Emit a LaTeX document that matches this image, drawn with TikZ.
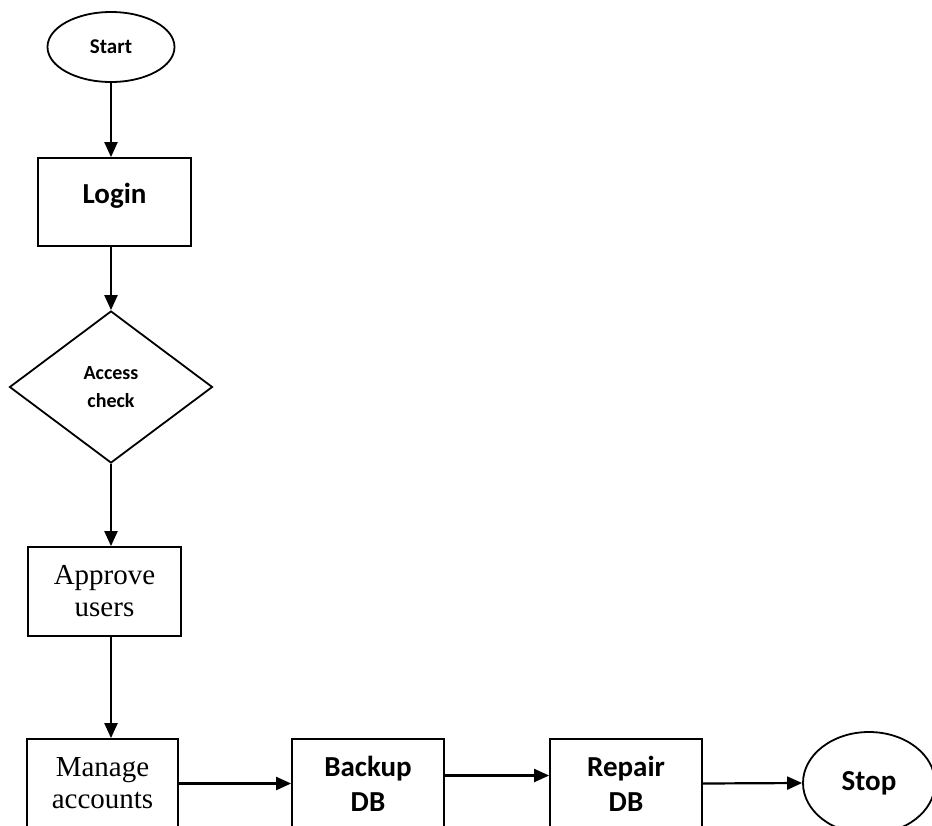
\documentclass[tikz,border=0pt]{standalone}
\usepackage{fontspec}
\setmainfont{Liberation Serif}
\newfontfamily\calfont{Carlito}
\usetikzlibrary{shapes.geometric,arrows.meta}
\begin{document}
\begin{tikzpicture}[x=1pt,y=-1pt,
  line width=1.8pt,
  arr/.style={-{Triangle[length=15pt,width=13pt]}, line width=2.2pt},
  procbox/.style={draw, rectangle, align=center, inner sep=0pt},
  term/.style={draw, ellipse, inner sep=0pt},
  decide/.style={draw, diamond, inner sep=0pt, aspect=1.336, align=center},
  sanslbl/.style={font=\calfont\bfseries\fontsize{29}{35}\selectfont},
  seriflbl/.style={font=\fontsize{29}{32}\selectfont}]
\useasboundingbox (0,0) rectangle (932,825);
\clip (0,0) rectangle (932,825);

% vertical chain
\node[term, minimum width=127pt, minimum height=70pt,
      font=\calfont\bfseries\fontsize{21}{24}\selectfont] (start) at (111,47) {Start};
\node[procbox, sanslbl, minimum width=153pt, minimum height=88pt,
      text depth=18pt] (login) at (114.5,202) {Login};
\node[decide, minimum width=203pt, minimum height=152pt,
      font=\calfont\bfseries\fontsize{20}{28}\selectfont] (check) at (111,387) {Access\\check};
\node[procbox, seriflbl, minimum width=153pt, minimum height=89pt] (approve) at (104.5,591.5) {Approve\\users};

% bottom row
\node[procbox, seriflbl, minimum width=151pt, minimum height=89pt] (manage) at (102.5,783.5) {Manage\\accounts};
\node[procbox, sanslbl, minimum width=152pt, minimum height=89pt] (backup) at (368,783.5) {Backup\\DB};
\node[procbox, sanslbl, minimum width=152pt, minimum height=89pt] (repair) at (626,783.5) {Repair\\DB};
\node[term, sanslbl, minimum width=132pt, minimum height=102pt] (stop) at (869,783) {Stop};

% connectors
\draw[arr] (start.south) -- (start.south |- login.north);
\draw[arr] (login.south -| start) -- (check.north);
\draw[arr] (check.south) -- (check.south |- approve.north);
\draw[arr] (approve.south -| check) -- (check |- manage.north);
\draw[arr] (manage.east) -- (backup.west);
\draw[arr] ([yshift=8pt]backup.east) -- ([yshift=8pt]repair.west);
\draw[arr] (repair.east) -- (stop.west);
\end{tikzpicture}
\end{document}
